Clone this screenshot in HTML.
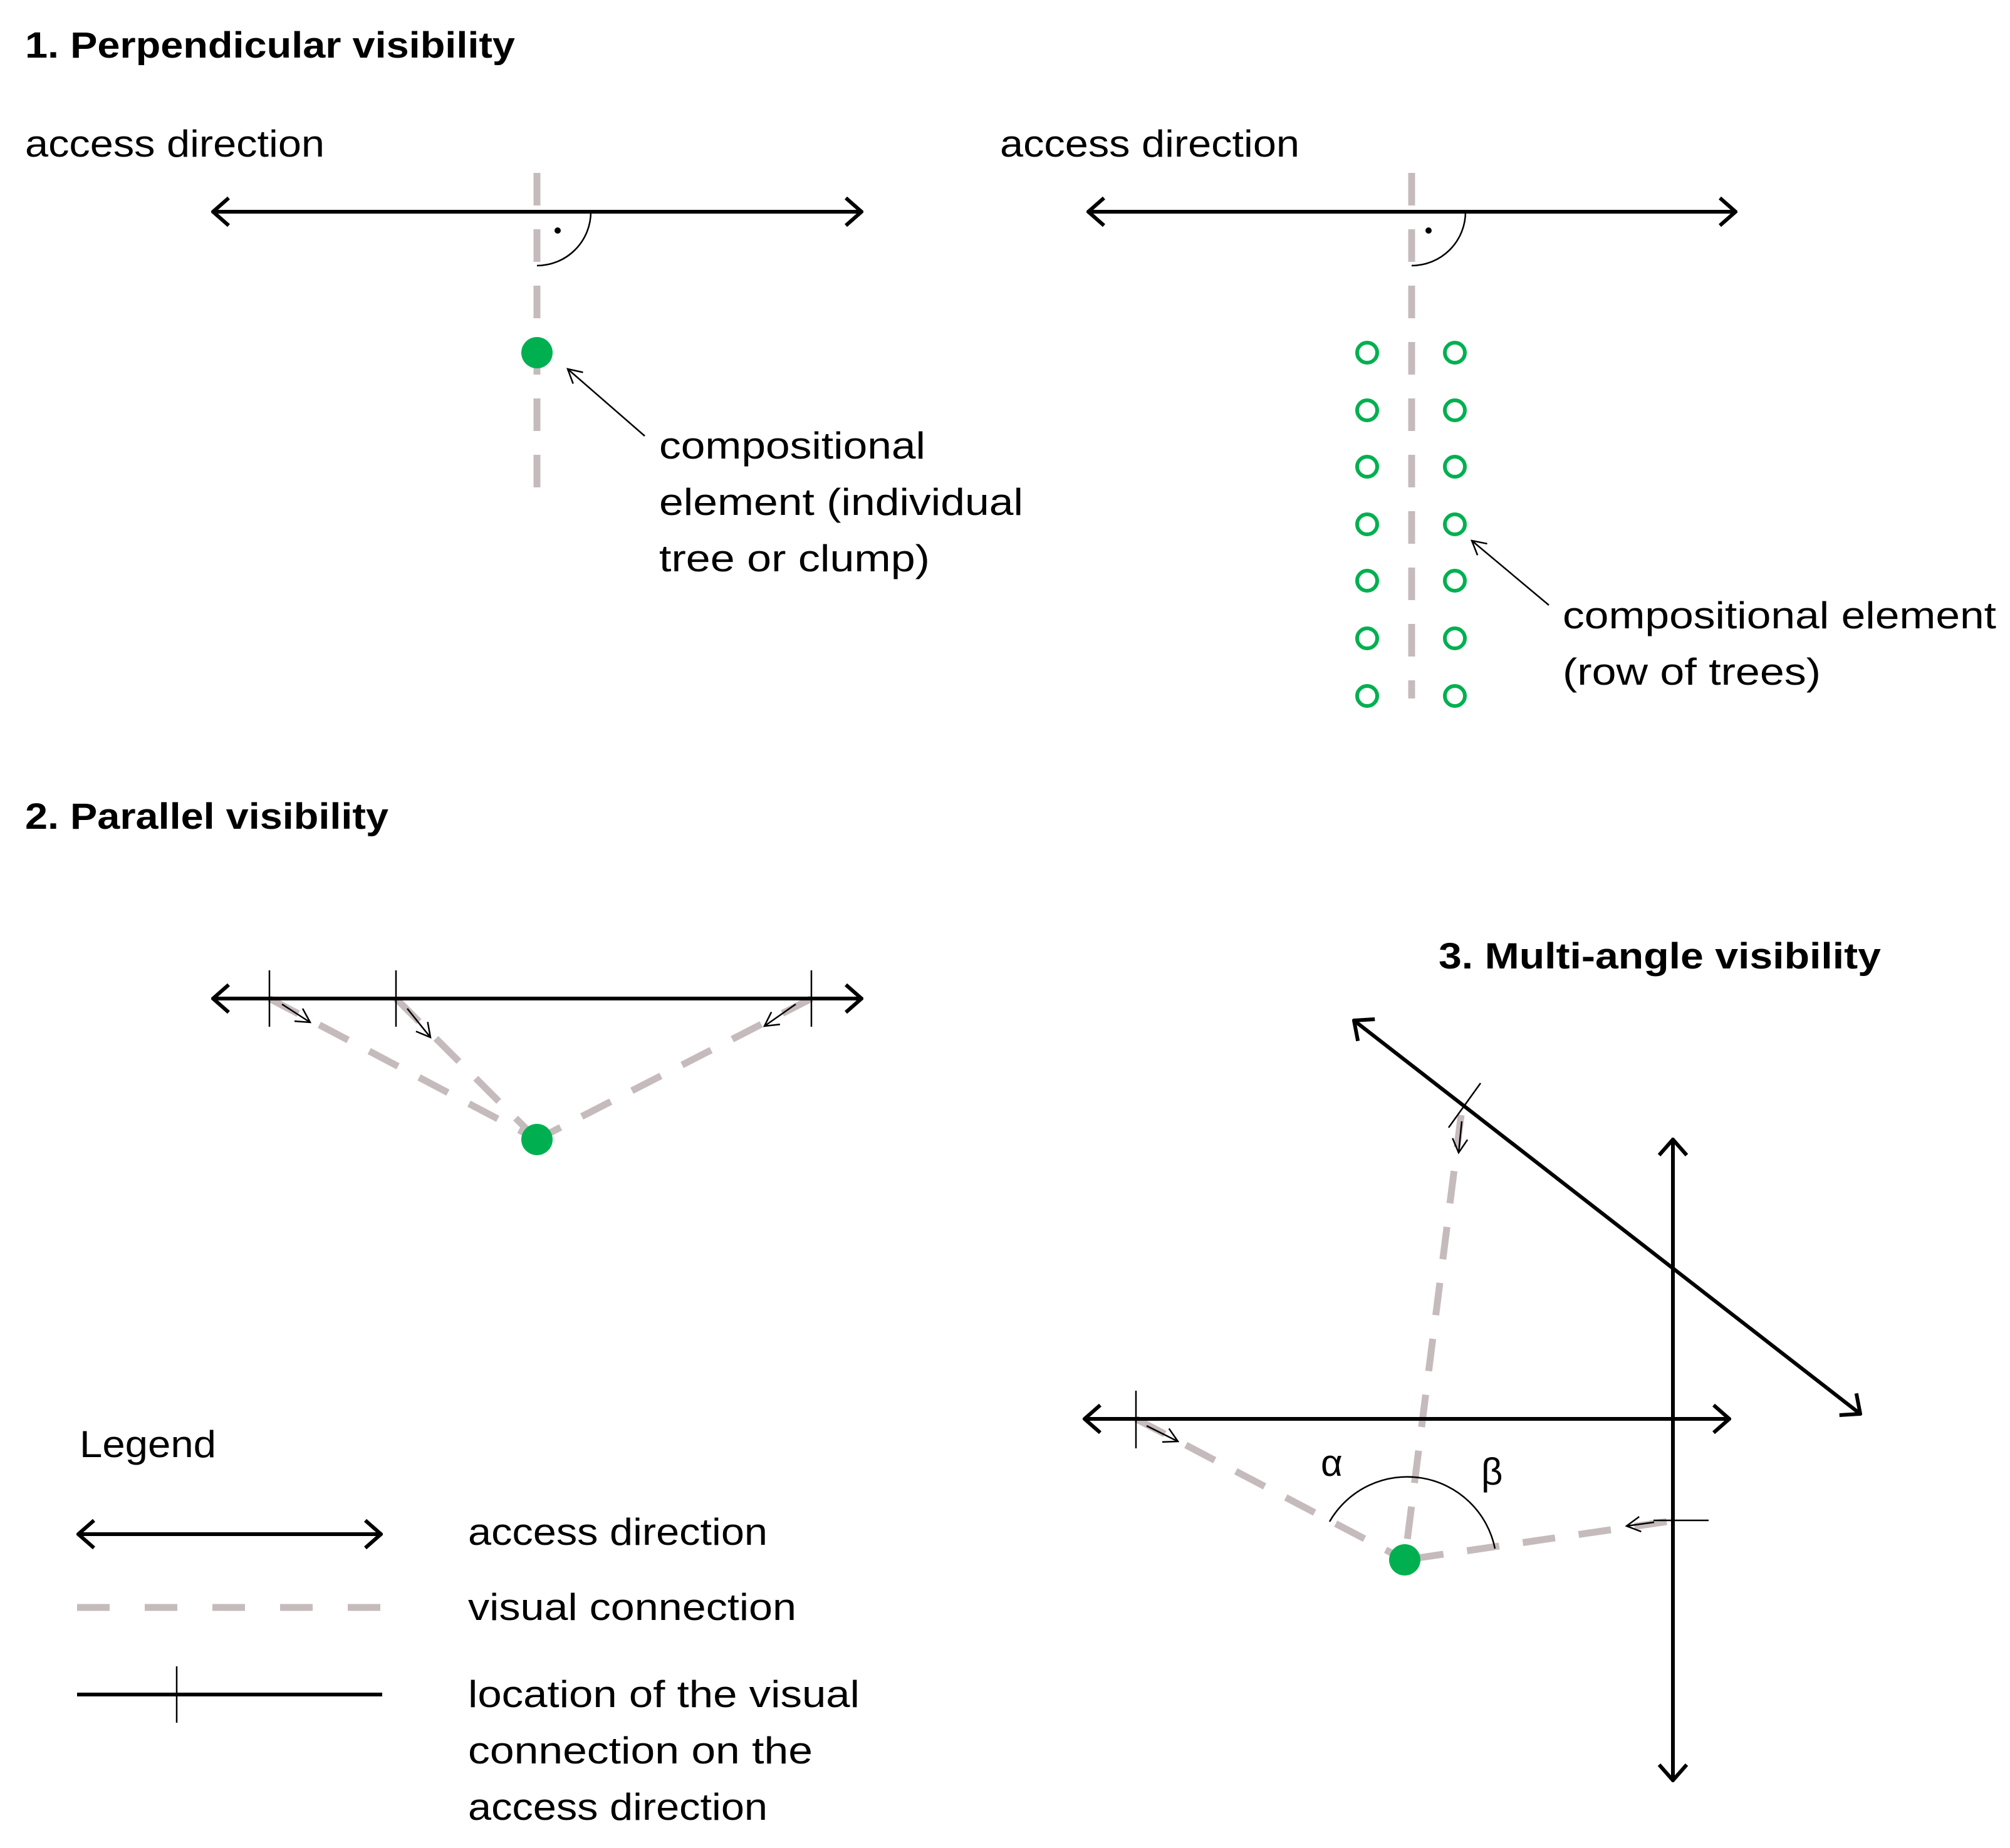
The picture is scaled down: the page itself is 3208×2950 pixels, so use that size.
<!DOCTYPE html>
<html><head><meta charset="utf-8"><style>
html,body{margin:0;padding:0;background:#fff;}
svg{display:block;}
text{font-family:"Liberation Sans",sans-serif;fill:#000;}
.t{font-size:60px;}
.h{font-size:58px;font-weight:bold;}
.k{stroke:#000;stroke-width:6;fill:none;}
.th{stroke:#000;stroke-width:2.5;fill:none;}
.d{stroke:#c6bbbc;stroke-width:11;fill:none;stroke-dasharray:52 38;}
</style></head><body>
<svg width="3208" height="2950" viewBox="0 0 3208 2950" xmlns="http://www.w3.org/2000/svg">
<defs>
<marker id="a" viewBox="0 0 40 50" refX="37" refY="25" markerWidth="40" markerHeight="50" markerUnits="userSpaceOnUse" orient="auto-start-reverse">
<path d="M12 3 L37 25 L12 47" fill="none" stroke="#000" stroke-width="6"/></marker>
<marker id="s" viewBox="0 0 30 30" refX="27" refY="15" markerWidth="30" markerHeight="30" markerUnits="userSpaceOnUse" orient="auto">
<path d="M5 3 L27 15 L5 27" fill="none" stroke="#000" stroke-width="2.5"/></marker>
</defs>

<!-- Section 1 -->
<text class="h" x="40" y="92" textLength="782" lengthAdjust="spacingAndGlyphs">1. Perpendicular visibility</text>
<text class="t" x="40" y="250" textLength="478" lengthAdjust="spacingAndGlyphs">access direction</text>
<text class="t" x="1596" y="250" textLength="478" lengthAdjust="spacingAndGlyphs">access direction</text>

<line class="d" x1="857" y1="276" x2="857" y2="798"/>
<line class="k" x1="340" y1="338" x2="1375" y2="338" marker-start="url(#a)" marker-end="url(#a)"/>
<path class="th" d="M943 338 A86 86 0 0 1 857 424"/>
<circle cx="890" cy="368" r="5" fill="#000"/>
<circle cx="857" cy="563" r="25" fill="#00b050"/>
<line class="th" x1="1029" y1="696" x2="906" y2="589" marker-end="url(#s)"/>
<text class="t" x="1052" y="732" textLength="425" lengthAdjust="spacingAndGlyphs">compositional</text>
<text class="t" x="1052" y="822" textLength="581" lengthAdjust="spacingAndGlyphs">element (individual</text>
<text class="t" x="1052" y="912" textLength="432" lengthAdjust="spacingAndGlyphs">tree or clump)</text>

<line class="d" x1="2253" y1="276" x2="2253" y2="1115"/>
<line class="k" x1="1737" y1="338" x2="2770" y2="338" marker-start="url(#a)" marker-end="url(#a)"/>
<path class="th" d="M2339 338 A86 86 0 0 1 2253 424"/>
<circle cx="2280" cy="368" r="5" fill="#000"/>
<g fill="none" stroke="#00b050" stroke-width="6">
<circle cx="2182" cy="563" r="16"/><circle cx="2322" cy="563" r="16"/>
<circle cx="2182" cy="655" r="16"/><circle cx="2322" cy="655" r="16"/>
<circle cx="2182" cy="745" r="16"/><circle cx="2322" cy="745" r="16"/>
<circle cx="2182" cy="837" r="16"/><circle cx="2322" cy="837" r="16"/>
<circle cx="2182" cy="927" r="16"/><circle cx="2322" cy="927" r="16"/>
<circle cx="2182" cy="1019" r="16"/><circle cx="2322" cy="1019" r="16"/>
<circle cx="2182" cy="1111" r="16"/><circle cx="2322" cy="1111" r="16"/>
</g>
<line class="th" x1="2472" y1="966" x2="2349" y2="863" marker-end="url(#s)"/>
<text class="t" x="2494" y="1003" textLength="692" lengthAdjust="spacingAndGlyphs">compositional element</text>
<text class="t" x="2494" y="1093" textLength="412" lengthAdjust="spacingAndGlyphs">(row of trees)</text>

<!-- Section 2 -->
<text class="h" x="40" y="1323" textLength="580" lengthAdjust="spacingAndGlyphs">2. Parallel visibility</text>
<line class="d" x1="430" y1="1594" x2="857" y2="1819"/>
<line class="d" x1="632" y1="1594" x2="857" y2="1819"/>
<line class="d" x1="1295" y1="1594" x2="857" y2="1819"/>
<line class="k" x1="340" y1="1594" x2="1375" y2="1594" marker-start="url(#a)" marker-end="url(#a)"/>
<line class="th" x1="430" y1="1549" x2="430" y2="1639"/>
<line class="th" x1="632" y1="1549" x2="632" y2="1639"/>
<line class="th" x1="1295" y1="1549" x2="1295" y2="1639"/>
<line class="th" x1="450" y1="1603" x2="495" y2="1632" marker-end="url(#s)"/>
<line class="th" x1="650" y1="1610" x2="687" y2="1656" marker-end="url(#s)"/>
<line class="th" x1="1270" y1="1603" x2="1220" y2="1638" marker-end="url(#s)"/>
<circle cx="857" cy="1819" r="25" fill="#00b050"/>

<!-- Section 3 -->
<text class="h" x="2296" y="1546" textLength="706" lengthAdjust="spacingAndGlyphs">3. Multi-angle visibility</text>
<line class="d" x1="1813" y1="2265" x2="2242" y2="2490"/>
<line class="d" x1="2332" y1="1780" x2="2242" y2="2490"/>
<line class="d" x1="2660" y1="2429" x2="2242" y2="2490"/>
<line class="k" x1="1731" y1="2265" x2="2760" y2="2265" marker-start="url(#a)" marker-end="url(#a)"/>
<line class="k" x1="2670" y1="1819" x2="2670" y2="2842" marker-start="url(#a)" marker-end="url(#a)"/>
<line class="k" x1="2161" y1="1629" x2="2969" y2="2257" marker-start="url(#a)" marker-end="url(#a)"/>
<line class="th" x1="1813" y1="2220" x2="1813" y2="2312"/>
<line class="th" x1="2312" y1="1800" x2="2363" y2="1729"/>
<line class="th" x1="2639" y1="2427" x2="2727" y2="2427"/>
<line class="th" x1="1830" y1="2276" x2="1880" y2="2301" marker-end="url(#s)"/>
<line class="th" x1="2333" y1="1790" x2="2328" y2="1840" marker-end="url(#s)"/>
<line class="th" x1="2640" y1="2430" x2="2596" y2="2436" marker-end="url(#s)"/>
<path class="th" d="M2122 2429 A143 143 0 0 1 2386 2472"/>
<text class="t" x="2108" y="2356">α</text>
<text class="t" x="2364" y="2370">β</text>
<circle cx="2242" cy="2490" r="25" fill="#00b050"/>

<!-- Legend -->
<text class="t" x="127" y="2326" textLength="218" lengthAdjust="spacingAndGlyphs">Legend</text>
<line class="k" x1="125" y1="2449" x2="608" y2="2449" marker-start="url(#a)" marker-end="url(#a)"/>
<line class="d" x1="123" y1="2566" x2="610" y2="2566" style="stroke-dasharray:52 56"/>
<line class="k" x1="123" y1="2705" x2="610" y2="2705"/>
<line class="th" x1="282" y1="2660" x2="282" y2="2750"/>
<text class="t" x="747" y="2466" textLength="478" lengthAdjust="spacingAndGlyphs">access direction</text>
<text class="t" x="747" y="2586" textLength="524" lengthAdjust="spacingAndGlyphs">visual connection</text>
<text class="t" x="747" y="2725" textLength="625" lengthAdjust="spacingAndGlyphs">location of the visual</text>
<text class="t" x="747" y="2815" textLength="550" lengthAdjust="spacingAndGlyphs">connection on the</text>
<text class="t" x="747" y="2905" textLength="478" lengthAdjust="spacingAndGlyphs">access direction</text>
</svg>
</body></html>
